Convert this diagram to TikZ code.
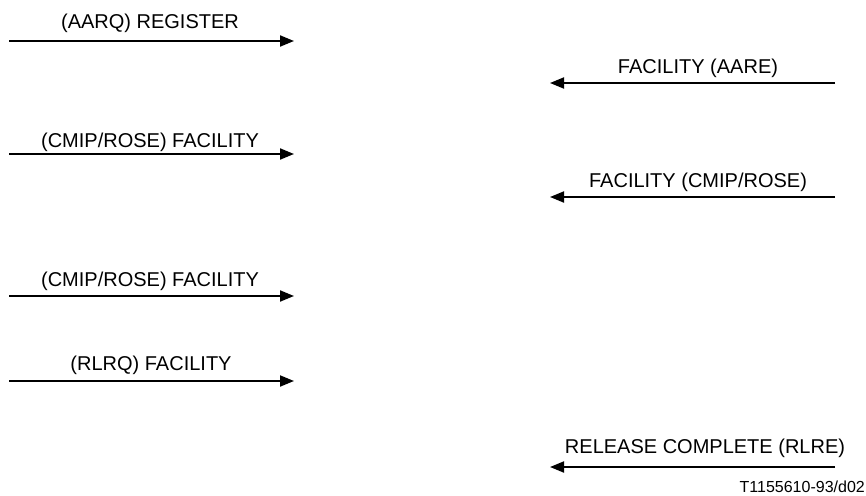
\documentclass[tikz,border=0pt]{standalone}
\usepackage{fontspec}
\setmainfont{Liberation Sans}
\usepackage{tikz}
\usetikzlibrary{arrows.meta}

\tikzset{
  msg/.style={line width=1.9pt, -{Triangle[length=14pt,width=11pt]}},
  msglabel/.style={anchor=base, inner sep=0pt, font=\fontsize{20}{24}\selectfont},
  reflabel/.style={anchor=base east, inner sep=0pt, font=\fontsize{16}{19}\selectfont}
}

\begin{document}
\begin{tikzpicture}[x=1pt, y=-1pt]
    \useasboundingbox (0,0) rectangle (866,495);
    % left side, outgoing
    \foreach \name/\ypos in {reg/41, cmipa/154, cmipb/296, rlrq/381}{
      \coordinate (\name-s) at (9,\ypos);
      \coordinate (\name-e) at (294,\ypos);
      \draw[msg] (\name-s) -- (\name-e);
    }
    \node[msglabel] (reg-l) at (150,29) {(AARQ) REGISTER};
    \node[msglabel] (cmipa-l) at (150,147) {(CMIP/ROSE) FACILITY};
    \node[msglabel] (cmipb-l) at (150,286) {(CMIP/ROSE) FACILITY};
    \node[msglabel] (rlrq-l) at (151,370) {(RLRQ) FACILITY};
    % right side, incoming
    \foreach \name/\ypos in {aare/83, cmipc/197, rlre/467}{
      \coordinate (\name-s) at (835,\ypos);
      \coordinate (\name-e) at (550,\ypos);
      \draw[msg] (\name-s) -- (\name-e);
    }
    \node[msglabel] (aare-l) at (698,74) {FACILITY (AARE)};
    \node[msglabel] (cmipc-l) at (698,187) {FACILITY (CMIP/ROSE)};
    \node[msglabel] (rlre-l) at (705,453) {RELEASE COMPLETE (RLRE)};
    % figure code
    \node[reflabel] (figref) at (865,492) {T1155610-93/d02};
\end{tikzpicture}
\end{document}
